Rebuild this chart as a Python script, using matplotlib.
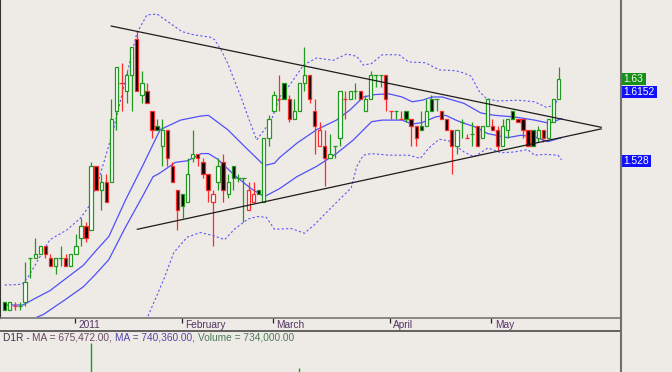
import matplotlib
matplotlib.use("Agg")
import matplotlib.pyplot as plt
from matplotlib.patches import Rectangle
from matplotlib.lines import Line2D
from matplotlib.transforms import blended_transform_factory

# daily candles, bar index 0..109
opens = [1.350, 1.340, 1.345, 1.345, 1.350, 1.405, 1.405, 1.410, 1.420, 1.405,
         1.395, 1.405, 1.405, 1.395, 1.410, 1.430, 1.445, 1.440, 1.520, 1.490,
         1.500, 1.500, 1.590, 1.625, 1.615, 1.635, 1.680, 1.610, 1.615, 1.590,
         1.570, 1.545, 1.565, 1.520, 1.490, 1.485, 1.475, 1.530, 1.535, 1.525,
         1.510, 1.475, 1.500, 1.525, 1.485, 1.520, 1.505, 1.505, 1.465, 1.475,
         1.490, 1.475, 1.555, 1.590, 1.605, 1.625, 1.605, 1.580, 1.590, 1.625,
         1.635, 1.590, 1.545, 1.545, 1.530, 1.545, 1.555, 1.605, 1.605, 1.615,
         1.615, 1.590, 1.605, 1.635, 1.635, 1.635, 1.590, 1.590, 1.580, 1.590,
         1.580, 1.570, 1.570, 1.570, 1.605, 1.605, 1.590, 1.580, 1.565, 1.545,
         1.575, 1.555, 1.560, 1.570, 1.555, 1.570, 1.570, 1.565, 1.545, 1.565,
         1.590, 1.580, 1.580, 1.565, 1.565, 1.555, 1.565, 1.555, 1.575, 1.605]
highs = [1.350, 1.350, 1.350, 1.350, 1.400, 1.405, 1.430, 1.420, 1.420, 1.410,
         1.405, 1.420, 1.410, 1.410, 1.435, 1.455, 1.450, 1.525, 1.520, 1.510,
         1.510, 1.605, 1.645, 1.650, 1.640, 1.670, 1.690, 1.640, 1.625, 1.590,
         1.580, 1.580, 1.565, 1.525, 1.490, 1.485, 1.530, 1.565, 1.535, 1.530,
         1.510, 1.490, 1.530, 1.535, 1.510, 1.520, 1.510, 1.505, 1.500, 1.500,
         1.490, 1.555, 1.585, 1.615, 1.635, 1.625, 1.610, 1.605, 1.625, 1.670,
         1.635, 1.605, 1.575, 1.565, 1.560, 1.545, 1.615, 1.615, 1.615, 1.625,
         1.615, 1.610, 1.640, 1.635, 1.635, 1.635, 1.590, 1.590, 1.590, 1.590,
         1.580, 1.570, 1.590, 1.605, 1.610, 1.605, 1.590, 1.580, 1.565, 1.565,
         1.580, 1.560, 1.575, 1.570, 1.570, 1.605, 1.580, 1.570, 1.580, 1.580,
         1.590, 1.580, 1.580, 1.565, 1.565, 1.570, 1.565, 1.580, 1.605, 1.645]
lows = [1.340, 1.340, 1.340, 1.340, 1.345, 1.380, 1.405, 1.410, 1.405, 1.395,
        1.385, 1.395, 1.395, 1.395, 1.410, 1.420, 1.425, 1.440, 1.490, 1.465,
        1.475, 1.500, 1.565, 1.590, 1.600, 1.590, 1.615, 1.600, 1.600, 1.555,
        1.565, 1.520, 1.520, 1.500, 1.440, 1.455, 1.475, 1.525, 1.520, 1.505,
        1.475, 1.420, 1.490, 1.475, 1.480, 1.490, 1.500, 1.450, 1.465, 1.475,
        1.485, 1.475, 1.545, 1.590, 1.590, 1.605, 1.575, 1.580, 1.590, 1.615,
        1.600, 1.535, 1.545, 1.495, 1.530, 1.530, 1.545, 1.580, 1.605, 1.605,
        1.605, 1.590, 1.605, 1.620, 1.620, 1.590, 1.580, 1.580, 1.580, 1.575,
        1.545, 1.545, 1.565, 1.570, 1.590, 1.590, 1.580, 1.565, 1.510, 1.535,
        1.555, 1.555, 1.545, 1.545, 1.555, 1.570, 1.565, 1.540, 1.545, 1.555,
        1.580, 1.575, 1.555, 1.545, 1.545, 1.550, 1.550, 1.555, 1.575, 1.605]
closes = [1.340, 1.350, 1.345, 1.345, 1.375, 1.405, 1.410, 1.420, 1.410, 1.395,
          1.405, 1.405, 1.395, 1.410, 1.420, 1.445, 1.430, 1.520, 1.490, 1.500,
          1.475, 1.580, 1.645, 1.625, 1.635, 1.670, 1.615, 1.625, 1.600, 1.565,
          1.565, 1.565, 1.530, 1.500, 1.465, 1.470, 1.510, 1.535, 1.530, 1.510,
          1.490, 1.485, 1.520, 1.490, 1.500, 1.505, 1.505, 1.505, 1.490, 1.485,
          1.485, 1.555, 1.580, 1.610, 1.605, 1.605, 1.580, 1.590, 1.625, 1.635,
          1.605, 1.570, 1.565, 1.530, 1.535, 1.545, 1.615, 1.605, 1.615, 1.615,
          1.605, 1.605, 1.635, 1.635, 1.635, 1.605, 1.590, 1.590, 1.580, 1.580,
          1.570, 1.555, 1.565, 1.590, 1.590, 1.605, 1.580, 1.565, 1.545, 1.565,
          1.575, 1.555, 1.560, 1.545, 1.570, 1.605, 1.565, 1.545, 1.570, 1.580,
          1.580, 1.575, 1.565, 1.545, 1.545, 1.565, 1.555, 1.580, 1.605, 1.630]

# moving averages (at bar positions)
ma1_x = [0, 3.6, 5.6, 8.9, 12.2, 15.5, 17.8, 20.5, 23.8, 27.1, 30.6, 34.6, 38.5, 40.1,
         43.9, 47.2, 51.1, 53.1, 54.1, 57.5, 61.4, 65.3, 68.0, 70.6, 72.8, 75.6, 78.2,
         80.2, 82.2, 84.1, 86.1, 88.8, 90.4, 93.7, 96.4, 100.3, 104.3, 107.2, 109.6]
ma1_y = [1.346, 1.346, 1.353, 1.364, 1.380, 1.396, 1.413, 1.432, 1.478, 1.520, 1.566,
         1.578, 1.583, 1.584, 1.566, 1.545, 1.521, 1.524, 1.531, 1.549, 1.566, 1.578,
         1.591, 1.607, 1.610, 1.611, 1.607, 1.601, 1.603, 1.607, 1.607, 1.602, 1.599,
         1.587, 1.584, 1.582, 1.578, 1.574, 1.580]
ma2_x = [6.4, 7.6, 12.2, 15.5, 17.8, 20.5, 23.8, 27.1, 29.2, 30.4, 33.6, 36.0, 38.7,
         40.1, 41.9, 45.2, 48.5, 51.1, 54.1, 57.5, 61.4, 65.3, 68.6, 72.2, 74.3, 78.2,
         80.2, 82.2, 84.8, 86.8, 88.8, 90.4, 92.4, 95.1, 99.0, 101.6, 104.3, 106.9, 109.6]
ma2_y = [1.331, 1.334, 1.354, 1.369, 1.384, 1.403, 1.444, 1.482, 1.507, 1.511, 1.525,
         1.527, 1.536, 1.536, 1.529, 1.509, 1.492, 1.482, 1.492, 1.507, 1.520, 1.536,
         1.553, 1.576, 1.578, 1.578, 1.573, 1.575, 1.582, 1.584, 1.578, 1.574, 1.570,
         1.561, 1.556, 1.559, 1.557, 1.551, 1.556]

# bollinger bands
bb_up_x = [0, 3.4, 4.7, 8.9, 12.2, 14.9, 16.5, 18.5, 21.4, 26.0, 28.0, 30.0, 32.0, 34.9,
           37.2, 40.5, 41.3, 42.6, 43.9, 45.2, 46.5, 47.9, 49.6, 52.5, 54.1, 56.1, 58.8,
           61.4, 64.7, 67.3, 69.3, 70.6, 72.2, 74.3, 77.6, 79.5, 82.8, 85.5, 88.8, 90.4,
           91.8, 93.4, 94.8, 97.0, 101.0, 104.3, 106.6, 108.3, 109.6]
bb_up_y = [1.371, 1.372, 1.382, 1.428, 1.440, 1.455, 1.469, 1.503, 1.566, 1.687, 1.710,
           1.711, 1.702, 1.689, 1.685, 1.682, 1.679, 1.666, 1.649, 1.628, 1.607, 1.582,
           1.553, 1.578, 1.607, 1.622, 1.647, 1.656, 1.653, 1.661, 1.658, 1.647, 1.649,
           1.660, 1.660, 1.651, 1.650, 1.641, 1.640, 1.637, 1.633, 1.614, 1.605, 1.602,
           1.603, 1.601, 1.594, 1.597, 1.615]
bb_lo_x = [28.2, 31.3, 33.3, 35.9, 38.5, 41.1, 43.3, 45.2, 47.9, 49.8, 51.5, 53.1, 56.4,
           59.0, 61.0, 63.6, 66.3, 68.2, 69.3, 70.6, 72.2, 75.6, 79.5, 81.8, 83.5, 85.5,
           87.4, 90.4, 92.4, 95.1, 97.7, 100.3, 102.9, 104.3, 106.2, 108.9, 109.6]
bb_lo_y = [1.332, 1.378, 1.412, 1.431, 1.437, 1.433, 1.428, 1.441, 1.454, 1.457, 1.456,
           1.441, 1.442, 1.436, 1.447, 1.464, 1.481, 1.493, 1.520, 1.534, 1.536, 1.534,
           1.534, 1.530, 1.543, 1.554, 1.552, 1.538, 1.532, 1.543, 1.537, 1.538, 1.541,
           1.534, 1.535, 1.534, 1.528]

# triangle trendlines (start bar, start price, end bar, end price)
trend_upper = [20.97, 1.696, 117.4, 1.569]
trend_lower = [26.1, 1.441, 117.4, 1.567]

month_names = ["2011", "February", "March", "April", "May"]
month_bars = [14, 35, 53, 76, 96]

vol_bars = [17, 58]
vol_values = [6.1e6, 4.3e6]

price_tags = ["1.63", "1.6152", "1.528"]
tag_levels = [1.630, 1.6137, 1.5261]
tag_colors = ["#16901a", "#1010ff", "#1010ff"]
tag_widths = [25, 36, 30]

bg = "#eeeae5"
green = "#1f9a1f"
red = "#ff2a2a"
blue = "#3535ff"
font = "Liberation Sans"

W, H = 672, 372
fig = plt.figure(figsize=(W / 100, H / 100), dpi=100, facecolor=bg)

xlim = (-0.925, 121.3)
ax = fig.add_axes([0, 54 / H, 621 / W, 318 / H], facecolor=bg)
ax.set_xlim(*xlim)
ax.set_ylim(1.3297, 1.7287)
ax.set_xticks([])
ax.set_yticks([])
for s in ["top", "right", "bottom"]:
    ax.spines[s].set_visible(False)
ax.spines["left"].set_color("#333333")
ax.spines["left"].set_linewidth(1.5)

ax.plot(ma1_x, ma1_y, color=blue, lw=0.9, alpha=0.85, zorder=2)
ax.plot(ma2_x, ma2_y, color=blue, lw=0.9, alpha=0.85, zorder=2)
ax.plot(bb_up_x, bb_up_y, color=blue, lw=0.8, ls=(0, (2, 2)), alpha=0.8, zorder=2)
ax.plot(bb_lo_x, bb_lo_y, color=blue, lw=0.8, ls=(0, (2, 2)), alpha=0.8, zorder=2)

w = 0.66
for i in range(len(closes)):
    o, h, l, c = opens[i], highs[i], lows[i], closes[i]
    col = green if i == 0 or c >= closes[i - 1] else red
    ax.vlines(i, l, h, color=col, lw=0.9, zorder=3)
    if o == c:
        ax.hlines(c, i - 0.42, i + 0.42, color=col, lw=0.9, zorder=4)
    else:
        fill = "black" if c < o else "white"
        ax.add_patch(Rectangle((i - w / 2, min(o, c)), w, abs(c - o), facecolor=fill,
                               edgecolor=col, lw=0.9, zorder=4))

for t in [trend_upper, trend_lower]:
    ax.plot([t[0], t[2]], [t[1], t[3]], color="#1c1c1c", lw=0.9, zorder=5)

# price tags on the right
tr = blended_transform_factory(ax.transAxes, ax.transData)
for txt, lv, cl, wd in zip(price_tags, tag_levels, tag_colors, tag_widths):
    hgt = 12 / 797
    ax.add_patch(Rectangle((1.0, lv - hgt / 2), wd / 621, hgt, transform=tr,
                           facecolor=cl, edgecolor="none", clip_on=False, zorder=6))
    ax.text(1.0 + wd / 2 / 621, lv, txt, transform=tr, ha="center", va="center",
            color="#f6f6e4" if cl == tag_colors[0] else "white", fontsize=7.4,
            family=font, clip_on=False, zorder=7)

# date strip
axd = fig.add_axes([0, 41 / H, 621 / W, 13 / H], facecolor=bg)
axd.set_xlim(*xlim)
axd.set_ylim(0, 1)
axd.axis("off")
for name, b in zip(month_names, month_bars):
    axd.vlines(b - 0.2, 0.6, 1.0, color="#222222", lw=0.9)
    axd.text(b + 0.45, 0.45, name, ha="left", va="center", fontsize=7.3,
             color="#553366", family=font)

# volume panel
axv = fig.add_axes([0, 0, 621 / W, 41 / H], facecolor=bg)
axv.set_xlim(*xlim)
axv.set_ylim(4.0e6, 7.0e6)
axv.axis("off")
axv.vlines(vol_bars, 0, vol_values, color="#1a9a1a", lw=1.0)

fig.add_artist(Line2D([0, 621 / W], [54 / H, 54 / H], color="#757575", lw=1.2))
fig.add_artist(Line2D([0, 621 / W], [41 / H, 41 / H], color="#4a4a4a", lw=1.2))
fig.add_artist(Line2D([621 / W, 621 / W], [0, 1], color="#6e6e6e", lw=1.5))

parts = [("D1R - ", "#3c3450"), ("MA = 675,472.00, ", "#6a4a66"),
         ("MA = 740,360.00, ", "#5048a8"), ("Volume = 734,000.00", "#4e7a58")]
renderer = fig.canvas.get_renderer()
x = 3
for s, c in parts:
    t = fig.text(x / W, 1 - 338 / H, s, color=c, fontsize=7.3, va="center",
                 ha="left", family=font)
    bb = t.get_window_extent(renderer)
    x = bb.x1

fig.savefig("out.png", dpi=100, facecolor=bg)
